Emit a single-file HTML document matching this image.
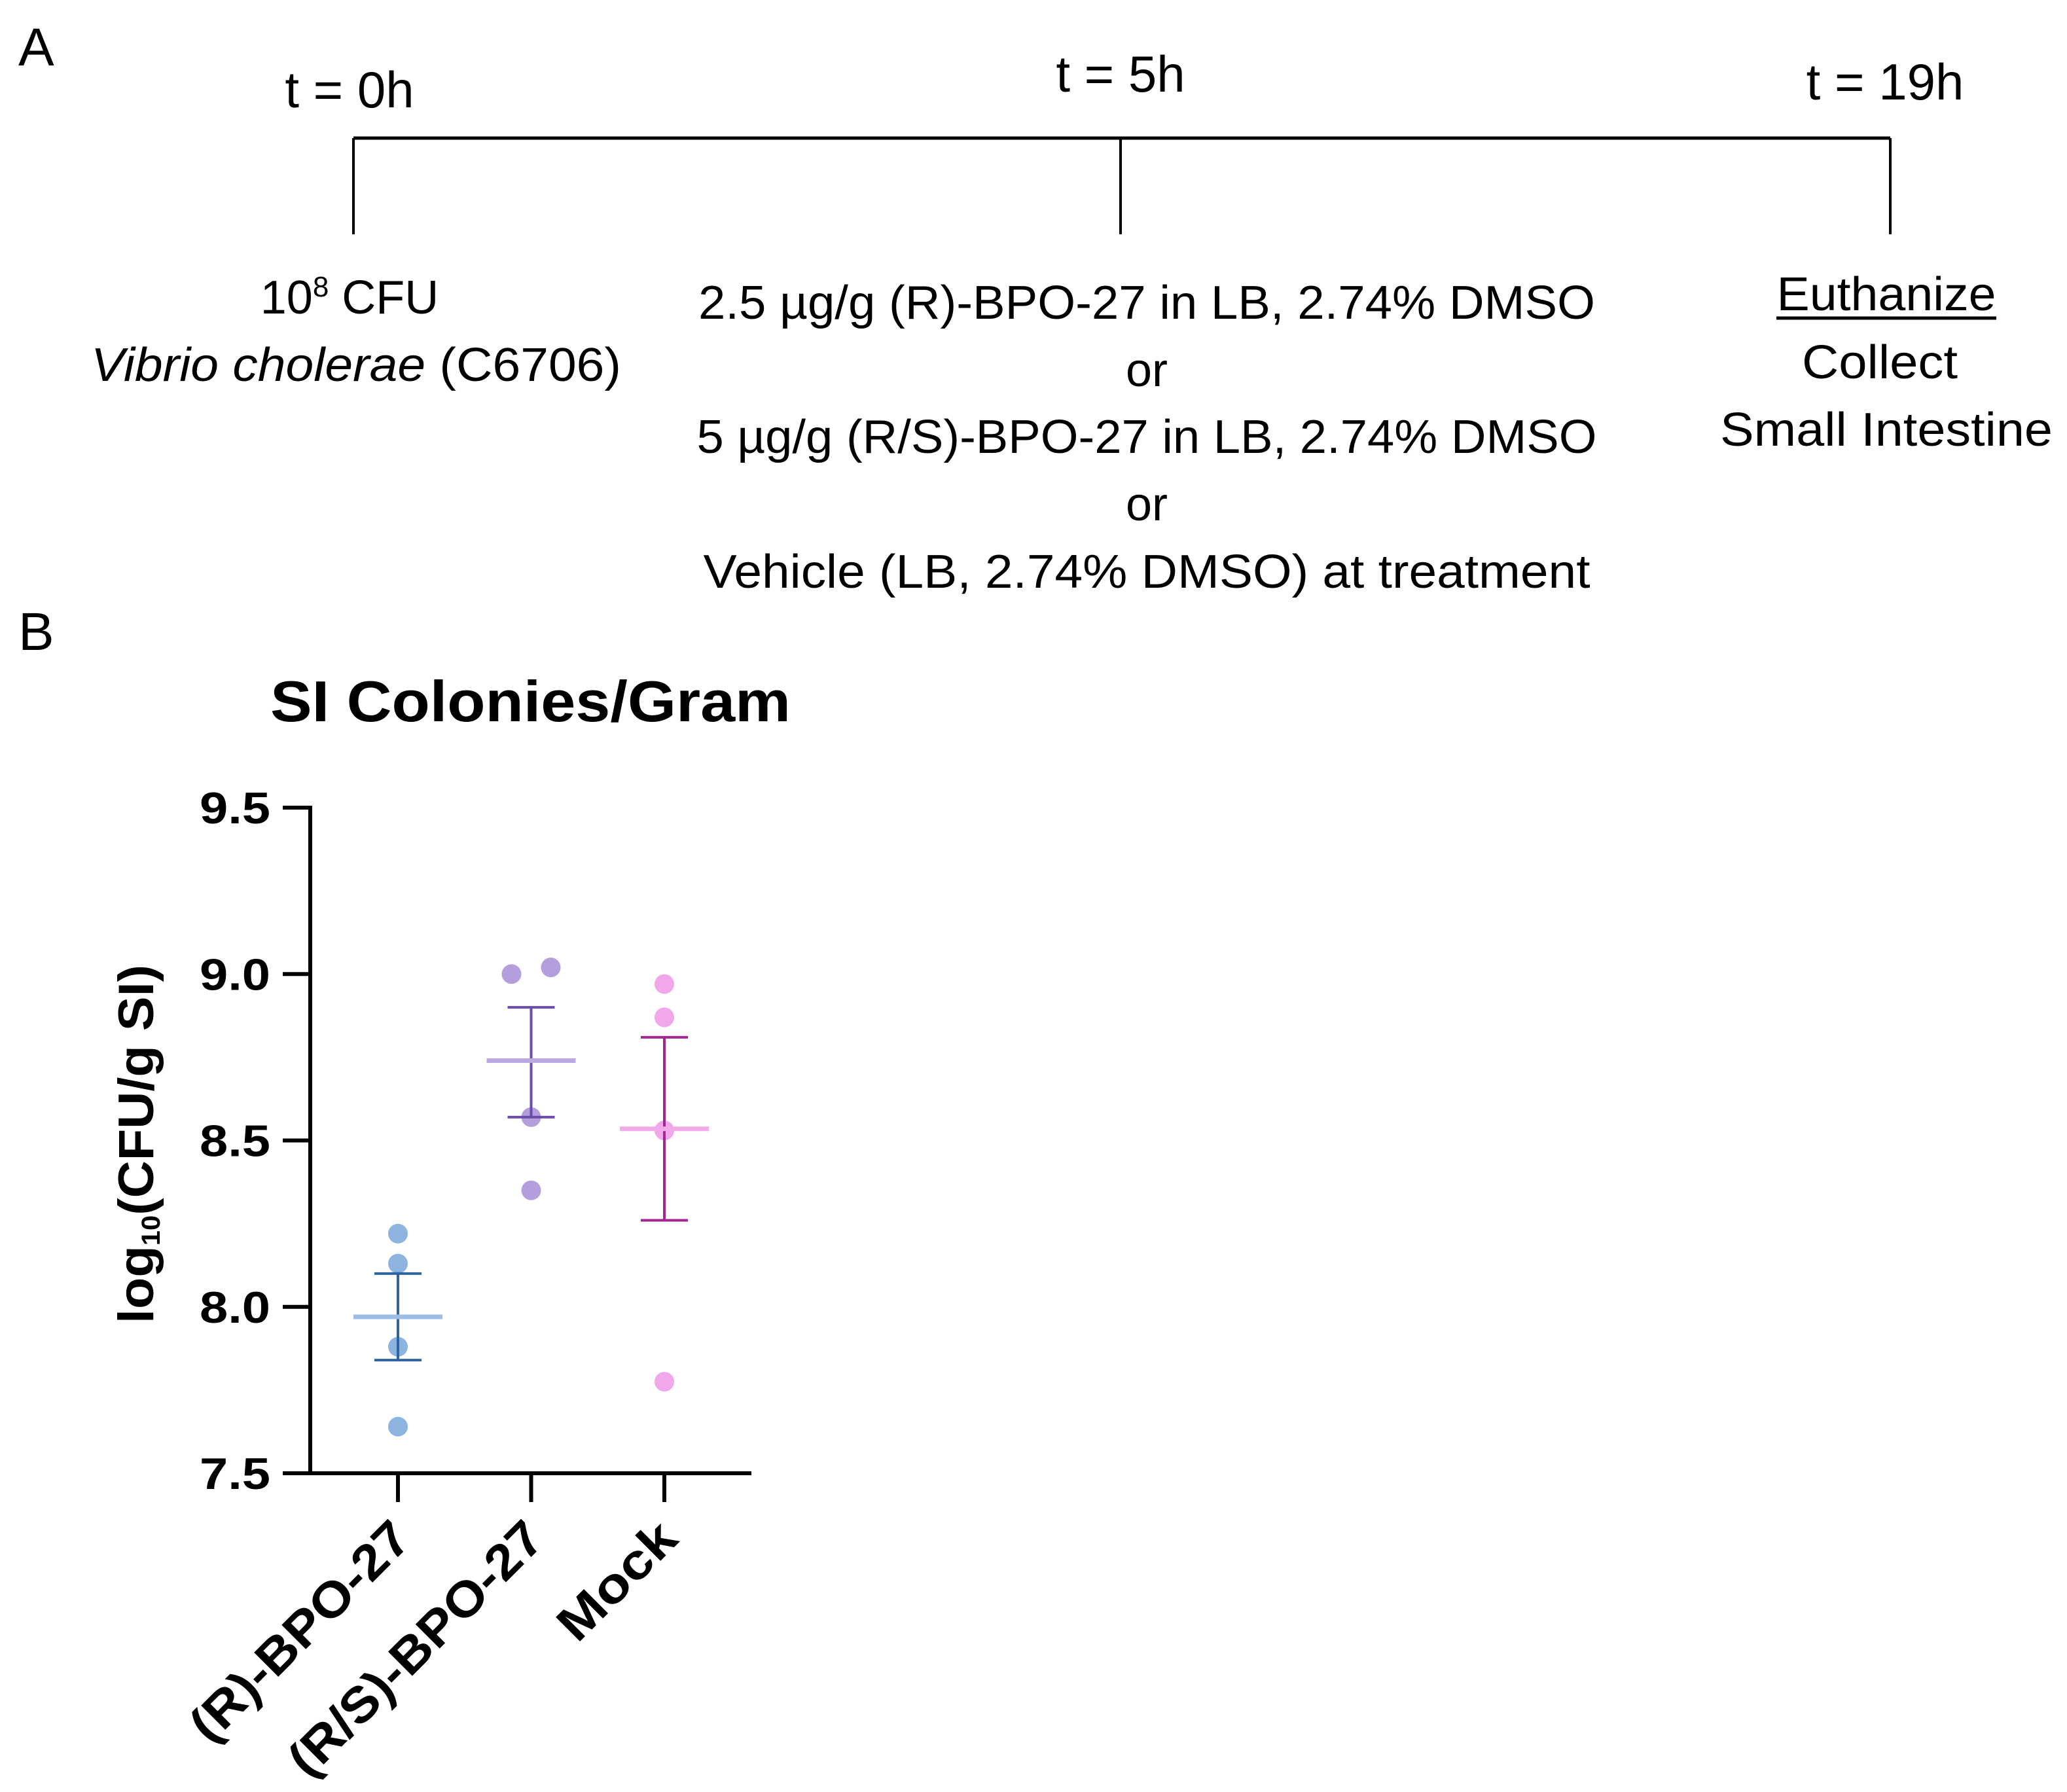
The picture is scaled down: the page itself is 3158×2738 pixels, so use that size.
<!DOCTYPE html>
<html><head><meta charset="utf-8"><style>
html,body{margin:0;padding:0;background:#fff;}
svg{display:block;}
text{font-family:"Liberation Sans",sans-serif;}
</style></head><body>
<svg id="fig" width="3158" height="2738" viewBox="0 0 3158 2738" xmlns="http://www.w3.org/2000/svg">
<g font-size="72" fill="#000">
<text x="28" y="100" font-size="82">A</text>
<line x1="540" y1="211" x2="2888" y2="211" stroke="#000" stroke-width="5"/>
<line x1="540" y1="211" x2="540" y2="358" stroke="#000" stroke-width="4"/>
<line x1="1712" y1="211" x2="1712" y2="358" stroke="#000" stroke-width="4"/>
<line x1="2888" y1="211" x2="2888" y2="358" stroke="#000" stroke-width="4"/>
<text x="534" y="164" text-anchor="middle" font-size="78">t = 0h</text>
<text x="1712" y="140" text-anchor="middle" font-size="78">t = 5h</text>
<text x="2880" y="152" text-anchor="middle" font-size="78">t = 19h</text>
<text x="534" y="479" text-anchor="middle">10<tspan dy="-26" font-size="44">8</tspan><tspan dy="26"> CFU</tspan></text>
<text x="544" y="582" text-anchor="middle" textLength="810" lengthAdjust="spacingAndGlyphs"><tspan font-style="italic">Vibrio cholerae</tspan> (C6706)</text>
<text x="1752" y="487" text-anchor="middle" textLength="1370" lengthAdjust="spacingAndGlyphs">2.5 µg/g (R)-BPO-27 in LB, 2.74% DMSO</text>
<text x="1752" y="590" text-anchor="middle">or</text>
<text x="1752" y="692" text-anchor="middle" textLength="1375" lengthAdjust="spacingAndGlyphs">5 µg/g (R/S)-BPO-27 in LB, 2.74% DMSO</text>
<text x="1752" y="795" text-anchor="middle">or</text>
<text x="1752" y="898" text-anchor="middle" textLength="1355" lengthAdjust="spacingAndGlyphs">Vehicle (LB, 2.74% DMSO) at treatment</text>
<text x="2882" y="474" text-anchor="middle" textLength="335" lengthAdjust="spacingAndGlyphs">Euthanize</text>
<line x1="2714" y1="486" x2="3050" y2="486" stroke="#000" stroke-width="5"/>
<text x="2872" y="578" text-anchor="middle" textLength="238" lengthAdjust="spacingAndGlyphs">Collect</text>
<text x="2882" y="681" text-anchor="middle" textLength="508" lengthAdjust="spacingAndGlyphs">Small Intestine</text>
</g>
<text x="28" y="993" font-size="82">B</text>
<text x="413" y="1102" font-size="88" font-weight="bold" textLength="795" lengthAdjust="spacingAndGlyphs">SI Colonies/Gram</text>
<g id="chart"></g>
</svg>
<script>
var categories = ["(R)-BPO-27", "(R/S)-BPO-27", "Mock"];
var pointsR = [8.22, 8.13, 7.88, 7.64];
var pointsRS = [9.00, 9.02, 8.57, 8.35];
var pointsMock = [8.97, 8.87, 8.53, 7.775];
var pointOffsets = [[0,0,0,0],[-30,30,0,0],[0,0,0,0]];
var means = [7.97, 8.74, 8.535];
var errHigh = [8.10, 8.90, 8.81];
var errLow = [7.84, 8.57, 8.26];
var yTicks = [7.5, 8.0, 8.5, 9.0, 9.5];
var yTickLabels = ["7.5", "8.0", "8.5", "9.0", "9.5"];

var NS = "http://www.w3.org/2000/svg";
var g = document.getElementById("chart");
var X0 = 474, Y0 = 2251, YTOP = 1234, XEND = 1148;
function yS(v){ return Y0 - (v - 7.5) / 2.0 * (Y0 - YTOP); }
function xS(i){ return 608 + i * 203.5; }
function mk(tag, attrs){ var e = document.createElementNS(NS, tag); for (var k in attrs) e.setAttribute(k, attrs[k]); g.appendChild(e); return e; }
var pointColors = ["#8db3df", "#b49fdc", "#f0a8ea"];
var meanColors = ["#9cbde6", "#bca8e2", "#f2aaeb"];
var errColors = ["#2f64a3", "#6a4ca9", "#a2288f"];
var labelLengths = [440, 515, 222];
var allPoints = [pointsR, pointsRS, pointsMock];

var ax = mk("line", {x1:X0, y1:YTOP-3, x2:X0, y2:Y0+3, stroke:"#000", "stroke-width":6});


var xax = mk("line", {x1:X0-42, y1:Y0, x2:XEND, y2:Y0, stroke:"#000", "stroke-width":6});



yTicks.forEach(function(v, i){
  var t = mk("line", {x1:X0-42, y1:yS(v), x2:X0, y2:yS(v), stroke:"#000", "stroke-width":6});
  
  
  var l = mk("text", {x:413, y:yS(v)+24, "text-anchor":"end", "font-size":68, "font-weight":"bold", textLength:108, lengthAdjust:"spacingAndGlyphs"});
  l.textContent = yTickLabels[i];
  
  
});

var yt = mk("text", {x:0, y:0, transform:"translate(234,1748) rotate(-90)", "text-anchor":"middle", "font-size":76, "font-weight":"bold", textLength:548, lengthAdjust:"spacingAndGlyphs"});
yt.innerHTML = 'log<tspan font-size="40" dy="10">10</tspan><tspan dy="-10">(CFU/g SI)</tspan>';



categories.forEach(function(c, i){
  var cx = xS(i);
  var t = mk("line", {x1:cx, y1:Y0, x2:cx, y2:Y0+44, stroke:"#000", "stroke-width":6});
  
  
  var l = mk("text", {x:0, y:0, transform:"translate(" + (cx+24) + "," + (Y0+104) + ") rotate(-45)", "text-anchor":"end", "font-size":76, "font-weight":"bold", textLength:labelLengths[i], lengthAdjust:"spacingAndGlyphs"});
  l.textContent = c;
  
  

  allPoints[i].forEach(function(v, j){
    var p = mk("circle", {cx:cx + pointOffsets[i][j], cy:yS(v), r:15, fill:pointColors[i]});
    
    
  });
  var e = mk("line", {x1:cx, y1:yS(errHigh[i]), x2:cx, y2:yS(errLow[i]), stroke:errColors[i], "stroke-width":4});
  
  
  [errHigh[i], errLow[i]].forEach(function(v){
    var cap = mk("line", {x1:cx-36, y1:yS(v), x2:cx+36, y2:yS(v), stroke:errColors[i], "stroke-width":4});
    
    
  });
  var m = mk("line", {x1:cx-68, y1:yS(means[i]), x2:cx+68, y2:yS(means[i]), stroke:meanColors[i], "stroke-width":7});
  
  
});
</script>
</body></html>
